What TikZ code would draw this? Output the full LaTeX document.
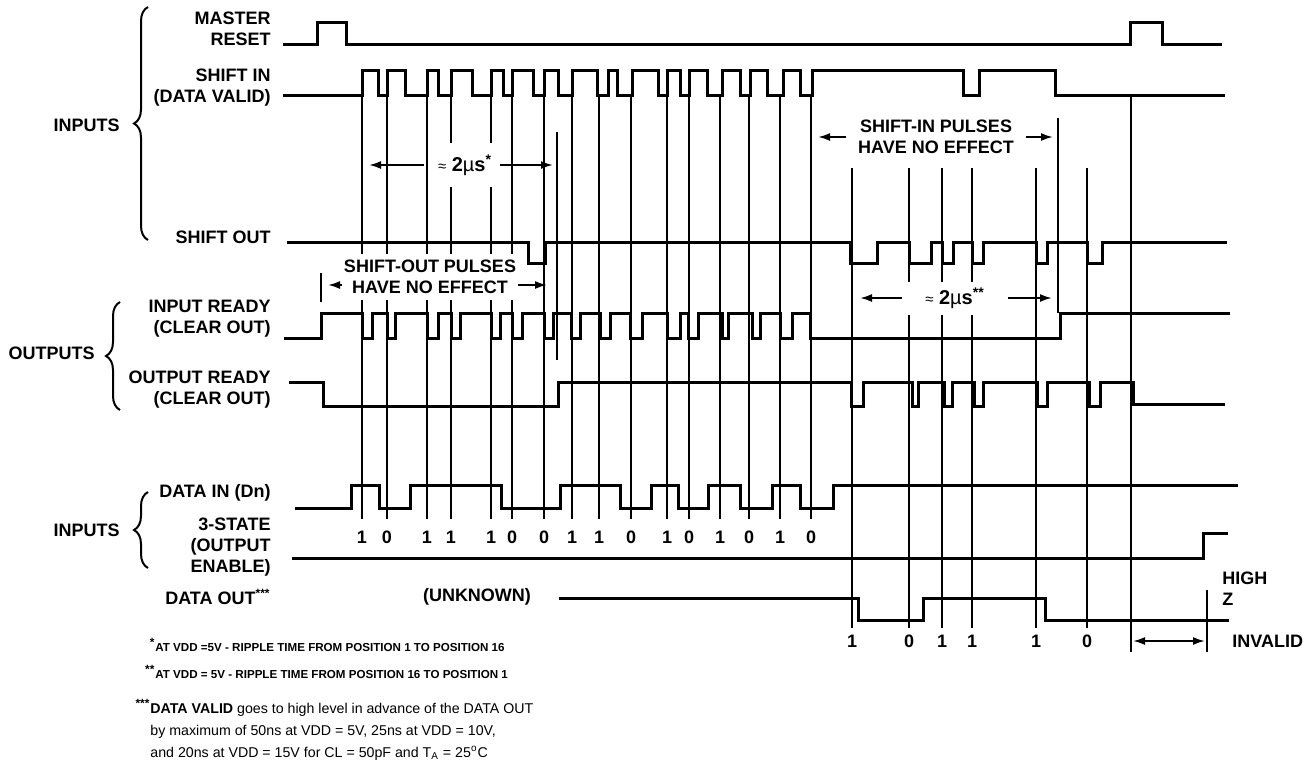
\documentclass[tikz,border=0pt]{standalone}
\usepackage{fontspec}
\setmainfont{Liberation Sans}
\usetikzlibrary{arrows.meta,decorations.pathreplacing}
\newcommand\lblfont{\fontsize{9}{10.5}\selectfont\bfseries}
\newcommand\ripfont{\fontsize{10}{12}\selectfont\bfseries}
\newcommand\notefont{\fontsize{5.8}{7}\selectfont\bfseries}
\newcommand\fnfont{\fontsize{7.1}{11}\selectfont}
\newcommand\fnmark[1]{\llap{\fontsize{8.5}{9}\selectfont\bfseries\textsuperscript{#1}}}

\begin{document}
\begin{tikzpicture}[
  x=0.5pt, y=-0.5pt,
  sig/.style={line width=1.5pt},
  tline/.style={line width=1pt},
  lbl/.style={font=\lblfont, align=right, anchor=east, inner sep=0pt},
  grp/.style={font=\lblfont, anchor=east, inner sep=0pt},
  brc/.style={line width=1pt, decorate, decoration={brace, amplitude=7pt}},
  bit/.style={font=\lblfont, inner sep=0pt},
  tlbl/.style={font=\lblfont, fill=white, align=center, inner sep=3pt},
  arr/.style={line width=1pt, -{Latex[length=6pt,width=4pt]}},
  note/.style={anchor=west, inner sep=0pt, align=left},
]
  \useasboundingbox (0,0) rectangle (1307,773);
  % --- Zeitmarken (Flanken) ---
  \foreach \x in {362,387,427,451,491,512,544,572,599,631,667,689,720,749,780,811}
    \draw[tline] (\x,96) -- (\x,519);
  \foreach \x in {852,909,942,972,1036,1087}
    \draw[tline] (\x,168) -- (\x,628);
  \draw[tline] (557,132) -- (557,360);
  \draw[tline] (1058,118) -- (1058,313);
  \draw[tline] (1131,95) -- (1131,652);
  \draw[tline] (1207,590) -- (1207,652);
  \draw[tline] (321,273) -- (321,302);
  % --- Hinweise mit Pfeilen ---
  \node[tlbl, font=\ripfont, inner xsep=2pt, minimum height=22pt] (rip1) at (465,165)
    {{\fontsize{7.5}{8}\selectfont\mdseries ≈} 2{\mdseries µ}s\textsuperscript{*}};
  \coordinate (rip1l) at (369,165);
  \coordinate (rip1r) at (553,165);
  \draw[arr, shorten <=5pt] (rip1.west) -- (rip1l);
  \draw[arr, shorten <=2pt] (rip1.east) -- (rip1r);
  \node[tlbl] (nosi) at (936,137) {SHIFT-IN PULSES\\HAVE NO EFFECT};
  \coordinate (nosil) at (818,137);
  \coordinate (nosir) at (1053,137);
  \draw[arr, shorten <=3pt] (nosi.west) -- (nosil);
  \draw[arr, shorten <=3pt] (nosi.east) -- (nosir);
  \node[tlbl, inner xsep=1pt] (noso) at (430,277) {SHIFT-OUT PULSES\\HAVE NO EFFECT};
  \coordinate (nosol) at (328,285);
  \coordinate (nosor) at (547,285);
  \draw[arr] (noso.west |- nosol) -- (nosol);
  \draw[arr] (noso.east |- nosor) -- (nosor);
  \node[tlbl, font=\ripfont, minimum width=49pt, minimum height=16.5pt, inner sep=0pt] (rip2) at (955,298)
    {{\fontsize{7.5}{8}\selectfont\mdseries ≈} 2{\mdseries µ}s\textsuperscript{**}};
  \coordinate (rip2l) at (860,298);
  \coordinate (rip2r) at (1052,298);
  \draw[arr, shorten <=2pt] (rip2.west) -- (rip2l);
  \draw[arr, shorten <=2pt] (rip2.east) -- (rip2r);
  % --- Signale ---
  \draw[sig] (283,44) foreach \r/\f in {317/346,1130/1162}
    { -- (\r,44) -- (\r,22) -- (\f,22) -- (\f,44) } -- (1222,44);
  \draw[sig] (283,95) foreach \r/\f in {362/378,387/405,427/438,451/472,491/503,512/533,544/558,572/597,608/617,632/658,667/680,689/707,722/740,750/767,783/800,812/963,979/1055}
    { -- (\r,95) -- (\r,70) -- (\f,70) -- (\f,95) } -- (1225,95);
  \draw[sig] (287,242) foreach \f/\r in {528/545,850/877,909/931,942/953,972/983,1036/1047,1087/1102}
    { -- (\f,242) -- (\f,263) -- (\r,263) -- (\r,242) } -- (1227,242);
  \draw[sig] (284,338) -- (321,338) -- (321,313) foreach \f/\r in {362/372,387/395,427/438,451/460,491/500,512/522,544/553,571/580,600/610,630/642,667/680,688/698,722/728,752/760,780/792,810/1060}
    { -- (\f,313) -- (\f,338) -- (\r,338) -- (\r,313) } -- (1230,313);
  \draw[sig] (289,382) -- (323,382) -- (323,406) -- (558,406) -- (558,382) foreach \f/\r in {851/863,912/918,944/952,974/983,1037/1047,1089/1100}
    { -- (\f,382) -- (\f,406) -- (\r,406) -- (\r,382) } -- (1133,382) -- (1133,404) -- (1225,404);
  \draw[sig] (295,508) foreach \r/\f in {351/379,410/501,560/620,651/678,708/740,772/800}
    { -- (\r,508) -- (\r,485) -- (\f,485) -- (\f,508) } -- (833,508) -- (833,485) -- (1238,485);
  \draw[sig] (292,558) -- (1203,558) -- (1203,533) -- (1228,533);
  \draw[sig] (559,598) -- (858,598) -- (858,620) -- (923,620) -- (923,598) -- (1045,598) -- (1045,620) -- (1229,620);
  % --- Signalnamen ---
  \node[lbl] (mr) at (271,29) {MASTER\\RESET};
  \node[lbl] (si) at (271,88) {SHIFT IN\\(DATA VALID)};
  \node[lbl] (so) at (271,237) {SHIFT OUT};
  \node[lbl] (ir) at (271,319) {INPUT READY\\(CLEAR OUT)};
  \node[lbl] (or) at (271,390) {OUTPUT READY\\(CLEAR OUT)};
  \node[lbl] (di) at (271,493) {DATA IN (Dn)};
  \node[lbl] (ts) at (271,547) {3-STATE\\(OUTPUT\\ENABLE)};
  \node[lbl] (do) at (271,597) {DATA OUT\textsuperscript{***}};
  \node[grp] (gin1) at (120,125) {INPUTS};
  \node[grp] (gout) at (95,353) {OUTPUTS};
  \node[grp] (gin2) at (120,530) {INPUTS};
  \draw[brc] (148,240) -- (148,7);
  \draw[brc] (120,410) -- (120,302);
  \draw[brc] (148,568) -- (148,492);
  % --- Datenbits ---
  \foreach \x/\b in {362/1,387/0,427/1,451/1,491/1,512/0,544/0,572/1,599/1,631/0,667/1,689/0,720/1,749/0,780/1,811/0}
    \node[bit] (b\x) at (\x,537) {\b};
  \foreach \x/\b in {852/1,909/0,942/1,972/1,1036/1,1087/0}
    \node[bit] (c\x) at (\x,641) {\b};
  \node[bit] (unk) at (477,597) {(UNKNOWN)};
  \node[note, font=\lblfont] (hz) at (1222,589) {HIGH\\Z};
  \node[note, font=\lblfont] (inv) at (1232,641) {INVALID};
  \coordinate (invl) at (1133,641);
  \coordinate (invr) at (1205,641);
  \draw[line width=1pt, {Latex[length=6pt,width=4pt]}-{Latex[length=6pt,width=4pt]}] (invl) -- (invr);
  % --- Fussnoten ---
  \node[note, font=\notefont] (fn1) at (155,645)
    {\fnmark{*}AT VDD =5V - RIPPLE TIME FROM POSITION 1 TO POSITION 16};
  \node[note, font=\notefont] (fn2) at (155,672)
    {\fnmark{**}AT VDD = 5V - RIPPLE TIME FROM POSITION 16 TO POSITION 1};
  \node[note, font=\fnfont] (fn3) at (150,730)
    {\fnmark{***}\textbf{DATA VALID} goes to high level in advance of the DATA OUT\\
     by maximum of 50ns at VDD = 5V, 25ns at VDD = 10V,\\
     and 20ns at VDD = 15V for CL = 50pF and T\textsubscript{A} = 25\textsuperscript{o}C};
\end{tikzpicture}
\end{document}
